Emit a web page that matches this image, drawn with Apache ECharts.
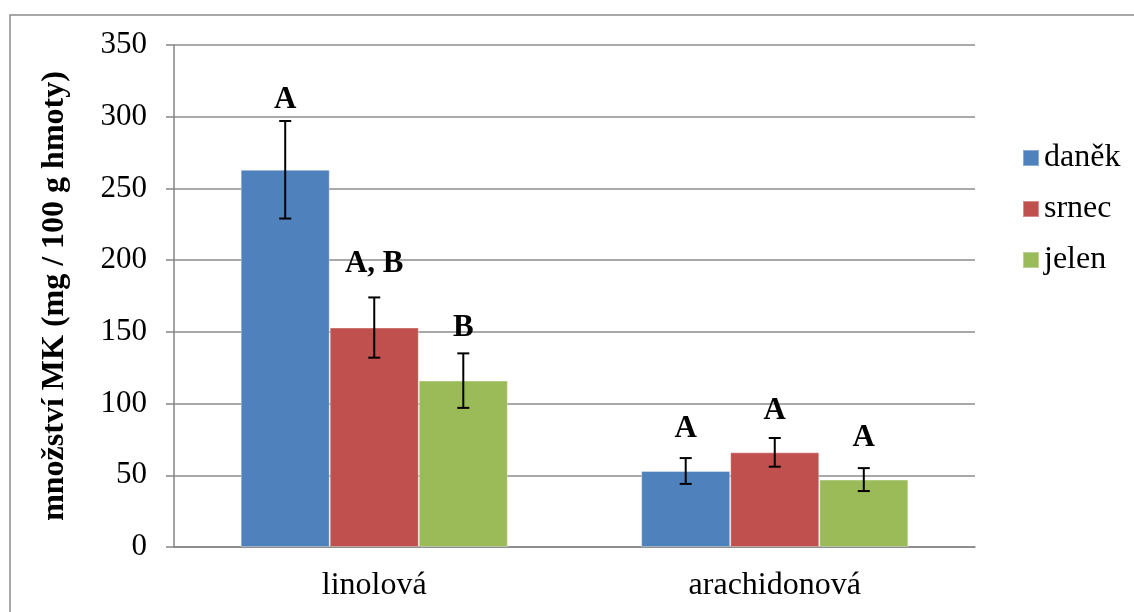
<!DOCTYPE html>
<html>
<head>
<meta charset="utf-8">
<script src="https://cdn.jsdelivr.net/npm/echarts@6/dist/echarts.min.js"></script>
<style>html,body{margin:0;padding:0;background:#fff}#c{width:1134px;height:612px}</style>
</head>
<body>
<div id="c"></div>
<script>
const categories = ['linolová', 'arachidonová'];
const seriesNames = ['daněk', 'srnec', 'jelen'];
const colors = ['#4F81BD', '#C0504D', '#9BBB59'];
const valDanek = [263, 53];
const valSrnec = [153, 66];
const valJelen = [116, 47];
const errDanek = [34, 9];
const errSrnec = [21, 10];
const errJelen = [19, 8];
const sigDanek = ['A', 'A'];
const sigSrnec = ['A, B', 'A'];
const sigJelen = ['B', 'A'];
const sigPosDanek = [312, 82];
const sigPosSrnec = [197, 95];
const sigPosJelen = [153, 76];
const yTicks = [0, 50, 100, 150, 200, 250, 300, 350];

const values = [valDanek, valSrnec, valJelen];
const errs = [errDanek, errSrnec, errJelen];
const sigs = [sigDanek, sigSrnec, sigJelen];
const sigPos = [sigPosDanek, sigPosSrnec, sigPosJelen];
const GAP = 0.333;
const FONT = '"Liberation Serif", "Times New Roman", serif';

const chart = echarts.init(document.getElementById('c'));
const series = [];
seriesNames.forEach((name, si) => {
  series.push({
    name: name, type: 'bar', data: values[si],
    barGap: '0%', barCategoryGap: (GAP * 100) + '%',
    itemStyle: { color: colors[si], borderColor: 'rgba(255,255,255,0.35)', borderWidth: 1 },
    z: 2
  });
});
seriesNames.forEach((name, si) => {
  series.push({
    type: 'custom', name: name + '_err',
    data: categories.map((c, ci) => [ci, values[si][ci], errs[si][ci], sigPos[si][ci], sigs[si][ci]]),
    encode: { x: 0, y: 1 },
    z: 5,
    renderItem: function (params, api) {
      const ci = api.value(0);
      const band = api.size([1, 0])[0];
      const bw = band * (1 - GAP) / 3;
      const off = (si - 1) * bw;
      const m = api.value(1), e = api.value(2);
      const pHi = api.coord([ci, m + e]);
      const pLo = api.coord([ci, m - e]);
      const pLab = api.coord([ci, api.value(3)]);
      const x = pHi[0] + off;
      const cap = 6;
      const st = { stroke: '#000', lineWidth: 2 };
      return {
        type: 'group',
        children: [
          { type: 'line', shape: { x1: x, y1: pHi[1], x2: x, y2: pLo[1] }, style: st },
          { type: 'line', shape: { x1: x - cap, y1: pHi[1], x2: x + cap, y2: pHi[1] }, style: st },
          { type: 'line', shape: { x1: x - cap, y1: pLo[1], x2: x + cap, y2: pLo[1] }, style: st },
          { type: 'text', x: x, y: pLab[1], style: {
              text: sigs[si][ci], fill: '#000', font: 'bold 31px ' + FONT,
              textAlign: 'center', textVerticalAlign: 'middle' } }
        ]
      };
    }
  });
});

chart.setOption({
  animation: false,
  backgroundColor: '#fff',
  textStyle: { fontFamily: FONT },
  graphic: [
    { type: 'rect', shape: { x: 10, y: 15, width: 1200, height: 700 },
      style: { fill: 'none', stroke: '#8c8c8c', lineWidth: 1.5 }, silent: true, z: -10 }
  ],
  legend: {
    data: seriesNames, orient: 'vertical', left: 1017, top: 136,
    itemWidth: 16, itemHeight: 16, itemGap: 17, icon: 'rect',
    textStyle: { fontFamily: FONT, fontSize: 32, lineHeight: 34, color: '#000' }
  },
  grid: { left: 174, right: 159, top: 45, bottom: 65, containLabel: false },
  xAxis: {
    type: 'category', data: categories,
    axisTick: { show: false },
    axisLine: { lineStyle: { color: '#868686', width: 1.5 } },
    axisLabel: { fontFamily: FONT, fontSize: 32, color: '#000', margin: 23 }
  },
  yAxis: {
    type: 'value', min: 0, max: 350, interval: 50,
    name: 'množství MK (mg / 100 g hmoty)', nameLocation: 'middle', nameRotate: 90, nameGap: 103,
    nameTextStyle: { fontFamily: FONT, fontSize: 32, fontWeight: 'bold', color: '#000' },
    axisLine: { show: true, lineStyle: { color: '#868686', width: 1.5 } },
    axisTick: { show: true, length: 8, lineStyle: { color: '#868686', width: 1.5 } },
    axisLabel: { fontFamily: FONT, fontSize: 31, color: '#000', margin: 27,
      formatter: v => yTicks.includes(v) ? String(v) : '' },
    splitLine: { lineStyle: { color: '#8c8c8c', width: 1.5 } }
  },
  series: series
});
</script>
</body>
</html>
